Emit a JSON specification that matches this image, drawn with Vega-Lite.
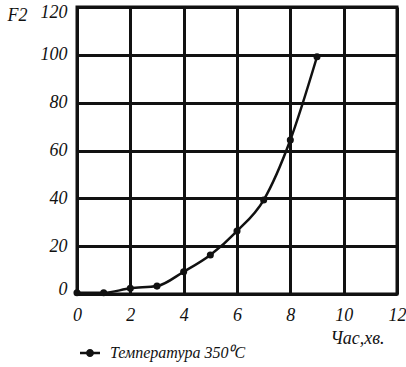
{
  "$schema": "https://vega.github.io/schema/vega-lite/v6.json",
  "width": 320,
  "height": 287,
  "autosize": {"type": "none"},
  "padding": {"left": 77, "top": 7, "right": 9, "bottom": 73},
  "background": "white",
  "config": {
    "view": {"stroke": "#111", "strokeWidth": 3},
    "font": "Liberation Serif",
    "axis": {
      "labelFont": "Liberation Serif", "labelFontStyle": "italic", "labelFontSize": 18, "labelColor": "#111",
      "titleFont": "Liberation Serif", "titleFontStyle": "italic", "titleFontWeight": "normal", "titleFontSize": 18, "titleColor": "#111",
      "gridColor": "#111", "gridWidth": 3, "gridOpacity": 1, "ticks": false, "domain": false
    }
  },
  "data": {"values": [
    {"t": 0, "f": 0.5, "s": "Температура 350⁰C"},
    {"t": 1, "f": 0.5, "s": "Температура 350⁰C"},
    {"t": 2, "f": 2.4, "s": "Температура 350⁰C"},
    {"t": 3, "f": 3.3, "s": "Температура 350⁰C"},
    {"t": 4, "f": 9.3, "s": "Температура 350⁰C"},
    {"t": 5, "f": 16.3, "s": "Температура 350⁰C"},
    {"t": 6, "f": 26.3, "s": "Температура 350⁰C"},
    {"t": 7, "f": 39.3, "s": "Температура 350⁰C"},
    {"t": 8, "f": 64.4, "s": "Температура 350⁰C"},
    {"t": 9, "f": 99.2, "s": "Температура 350⁰C"}
  ]},
  "encoding": {
    "x": {"field": "t", "type": "quantitative",
      "scale": {"domain": [0, 12], "nice": false},
      "axis": {"values": [0, 2, 4, 6, 8, 10, 12], "labelPadding": 12, "labelFlush": false,
        "title": "Час,хв.", "titleX": 280, "titleY": 44, "titleAlign": "center", "titleBaseline": "middle"}},
    "y": {"field": "f", "type": "quantitative",
      "scale": {"domain": [0, 120], "nice": false},
      "axis": {"values": [0, 20, 40, 60, 80, 100, 120], "labelPadding": 10, "labelFlush": true, "labelFlushOffset": 4,
        "title": "F2", "titleAngle": 0, "titleX": -60, "titleY": 8, "titleAlign": "center", "titleBaseline": "middle"}}
  },
  "layer": [
    {"mark": {"type": "line", "interpolate": "monotone", "strokeWidth": 2.5, "color": "#111"},
     "encoding": {
       "color": {"field": "s", "type": "nominal", "scale": {"range": ["#111"]},
         "legend": {"orient": "none", "legendX": 3, "legendY": 336, "title": null,
           "symbolType": "M-1,-0.13H1V0.13H-1Z M0.4,0A0.4,0.4 0 1,1 -0.4,0A0.4,0.4 0 1,1 0.4,0Z",
           "symbolSize": 400, "symbolFillColor": "#111", "symbolStrokeWidth": 0,
           "labelFont": "Liberation Serif", "labelFontStyle": "italic", "labelFontSize": 16, "labelColor": "#111", "labelOffset": 10}}
     }},
    {"mark": {"type": "point", "filled": true, "size": 50, "color": "#111", "opacity": 1}}
  ]
}
